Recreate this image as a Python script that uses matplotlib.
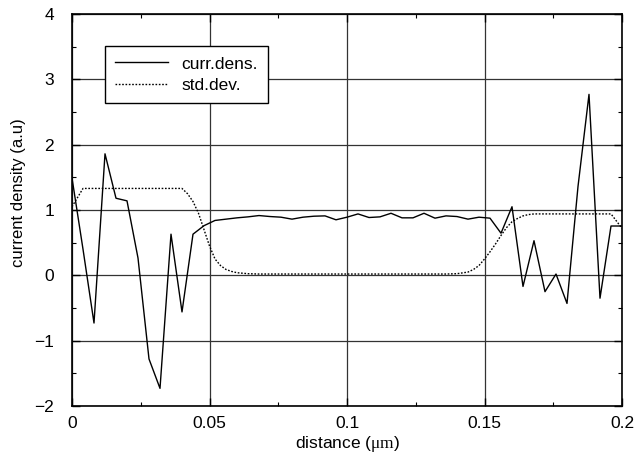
import matplotlib
matplotlib.use("Agg")
import matplotlib.pyplot as plt
import numpy as np
from matplotlib.ticker import MultipleLocator

plt.rcParams['font.family'] = ['Liberation Sans', 'DejaVu Sans']
plt.rcParams['mathtext.fontset'] = 'custom'
plt.rcParams['mathtext.rm'] = 'Liberation Serif'
plt.rcParams['mathtext.it'] = 'Liberation Serif:italic'

# current density samples (x step 0.004 um)
dens_x = [i * 0.004 for i in range(51)]
dens_y = [1.49, 0.40, -0.73, 1.86, 1.18, 1.14, 0.265, -1.28, -1.73, 0.63,
          -0.56, 0.63, 0.76, 0.84, 0.86, 0.88, 0.895, 0.915, 0.90, 0.89,
          0.86, 0.89, 0.905, 0.91, 0.85, 0.89, 0.94, 0.885, 0.895, 0.95,
          0.88, 0.88, 0.95, 0.875, 0.91, 0.90, 0.86, 0.89, 0.875, 0.645,
          1.05, -0.17, 0.53, -0.25, 0.02, -0.43, 1.36, 2.77, -0.35, 0.755,
          0.755]

# standard deviation
std_x = [0.000, 0.004, 0.040, 0.042, 0.044, 0.046, 0.048, 0.050, 0.052, 0.054,
         0.056, 0.058, 0.060, 0.064, 0.068, 0.072, 0.136, 0.140, 0.144, 0.146,
         0.148, 0.150, 0.152, 0.154, 0.156, 0.158, 0.160, 0.162, 0.164, 0.166,
         0.168, 0.172, 0.196, 0.200]
std_y = [1.05, 1.33, 1.33, 1.25, 1.13, 0.95, 0.70, 0.45, 0.25, 0.15,
         0.09, 0.06, 0.04, 0.025, 0.02, 0.02, 0.02, 0.025, 0.05, 0.09,
         0.15, 0.25, 0.36, 0.48, 0.61, 0.73, 0.82, 0.87, 0.91, 0.93,
         0.94, 0.94, 0.94, 0.72]

fig = plt.figure(figsize=(6.35, 4.62), dpi=100)
ax = fig.add_axes([72/635, 56/462, 550/635, 392/462])

ax.plot(dens_x, dens_y, color='black', lw=1.0, label='curr.dens.')
ax.plot(std_x, std_y, color='black', lw=1.0, ls=(0, (1.2, 1.2)), label='std.dev.')

ax.set_xlim(0, 0.2)
ax.set_ylim(-2, 4)
ax.xaxis.set_minor_locator(MultipleLocator(0.025))
ax.yaxis.set_minor_locator(MultipleLocator(0.5))
ax.set_xticks([0, 0.05, 0.1, 0.15, 0.2])
ax.set_xticklabels(['0', '0.05', '0.1', '0.15', '0.2'])
ax.set_yticks([-2, -1, 0, 1, 2, 3, 4])
ax.set_yticklabels(['\u22122', '\u22121', '0', '1', '2', '3', '4'])

ax.grid(True, which='major', color='#333333', lw=0.9)
ax.set_axisbelow(True)
ax.tick_params(which='both', direction='in', top=True, right=True, labelsize=12.5, colors='black')
ax.tick_params(axis='y', which='major', length=6, width=1, pad=13)
ax.tick_params(axis='x', which='major', length=6, width=1, pad=7)
ax.tick_params(which='minor', length=3, width=0.8)
for s in ax.spines.values():
    s.set_linewidth(1.2)

ax.set_xlabel(r'distance ($\mathrm{\mu m}$)', fontsize=12.5, labelpad=2)
ax.set_ylabel('current density (a.u)', fontsize=12, labelpad=8)
ax.yaxis.set_label_coords(-0.084, 0.545)

leg = ax.legend(loc='upper left', bbox_to_anchor=(33/550, 1 - 32/392), fontsize=12.5,
                frameon=True, fancybox=False, framealpha=1, edgecolor='black',
                handlelength=3.0, borderpad=0.6, labelspacing=0.35, handletextpad=0.8,
                borderaxespad=0)
leg.get_frame().set_linewidth(1.0)

fig.savefig('out.png', dpi=100)
